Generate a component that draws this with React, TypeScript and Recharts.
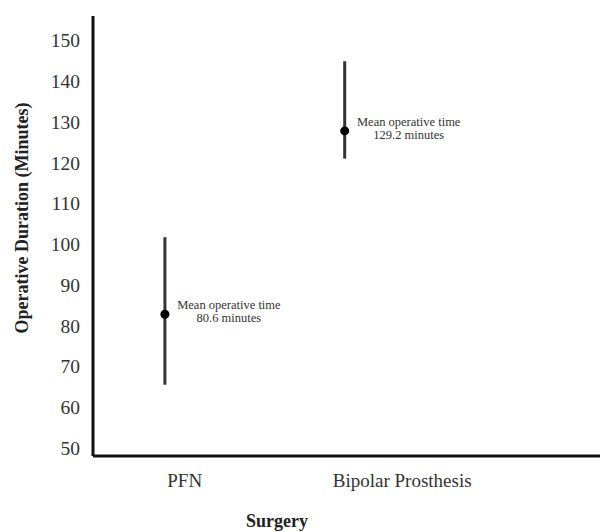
import React from "react";
import { ScatterChart, Scatter, XAxis, YAxis, ErrorBar, Label } from "recharts";

const categories = ["PFN", "Bipolar Prosthesis"];
const pointX = [1, 2];
const labelTickX = [1.11, 2.32];
const meanValues = [82.8, 127.8];
const lowValues = [65.5, 121];
const highValues = [101.7, 144.9];
const meanLabels = ["80.6", "129.2"];
const yTicks = [50, 60, 70, 80, 90, 100, 110, 120, 130, 140, 150];

const data = categories.map((name, i) => ({
  name,
  x: pointX[i],
  y: meanValues[i],
  err: [meanValues[i] - lowValues[i], highValues[i] - meanValues[i]],
  label: meanLabels[i],
}));

const FONT = "'Liberation Serif', 'Times New Roman', serif";

const PointShape = (props: any) => {
  const { cx, cy, payload } = props;
  return (
    <g>
      <circle cx={cx} cy={cy} r={4.5} fill="#000" />
      <text x={cx + 64} y={cy - 5} textAnchor="middle" fontSize={12.5} fill="#333" fontFamily={FONT}>
        Mean operative time
      </text>
      <text x={cx + 64} y={cy + 8} textAnchor="middle" fontSize={12.5} fill="#333" fontFamily={FONT}>
        {payload.label} minutes
      </text>
    </g>
  );
};

export default function App() {
  return (
    <div style={{ position: "absolute", left: 0, top: 0, background: "#fff" }}>
      <ScatterChart width={603} height={532} margin={{ top: 16, right: 3, left: 33, bottom: 0 }}>
        <XAxis
          type="number"
          dataKey="x"
          domain={[0.6, 3.42]}
          ticks={labelTickX}
          tickFormatter={(v: number) => categories[labelTickX.indexOf(v)] ?? ""}
          axisLine={{ stroke: "#111", strokeWidth: 3 }}
          tickLine={false}
          tickMargin={12}
          height={76}
          tick={{ fontSize: 19, fill: "#333", fontFamily: FONT }}
          allowDataOverflow
        >
          <Label
            content={(p: any) => {
              const vb = p.viewBox;
              return (
                <text x={vb.x + 184} y={vb.y + 71} textAnchor="middle" fontSize={18} fontWeight="bold" fill="#222" fontFamily={FONT}>
                  Surgery
                </text>
              );
            }}
          />
        </XAxis>
        <YAxis
          type="number"
          dataKey="y"
          domain={[48, 156]}
          ticks={yTicks}
          width={60}
          axisLine={{ stroke: "#111", strokeWidth: 3 }}
          tickLine={false}
          tickMargin={7}
          tick={{ fontSize: 19.5, fill: "#333", fontFamily: FONT }}
          allowDataOverflow
        >
          <Label
            content={(p: any) => {
              const vb = p.viewBox;
              const cx = vb.x - 11;
              const cy = vb.y + vb.height / 2 - 18;
              return (
                <text x={cx} y={cy} transform={`rotate(-90 ${cx} ${cy})`} textAnchor="middle" dominantBaseline="central" fontSize={18} fontWeight="bold" fill="#222" fontFamily={FONT}>
                  Operative Duration (Minutes)
                </text>
              );
            }}
          />
        </YAxis>
        <Scatter data={data} isAnimationActive={false} shape={<PointShape />}>
          <ErrorBar dataKey="err" direction="y" width={0} stroke="#333" strokeWidth={3} />
        </Scatter>
      </ScatterChart>
    </div>
  );
}
